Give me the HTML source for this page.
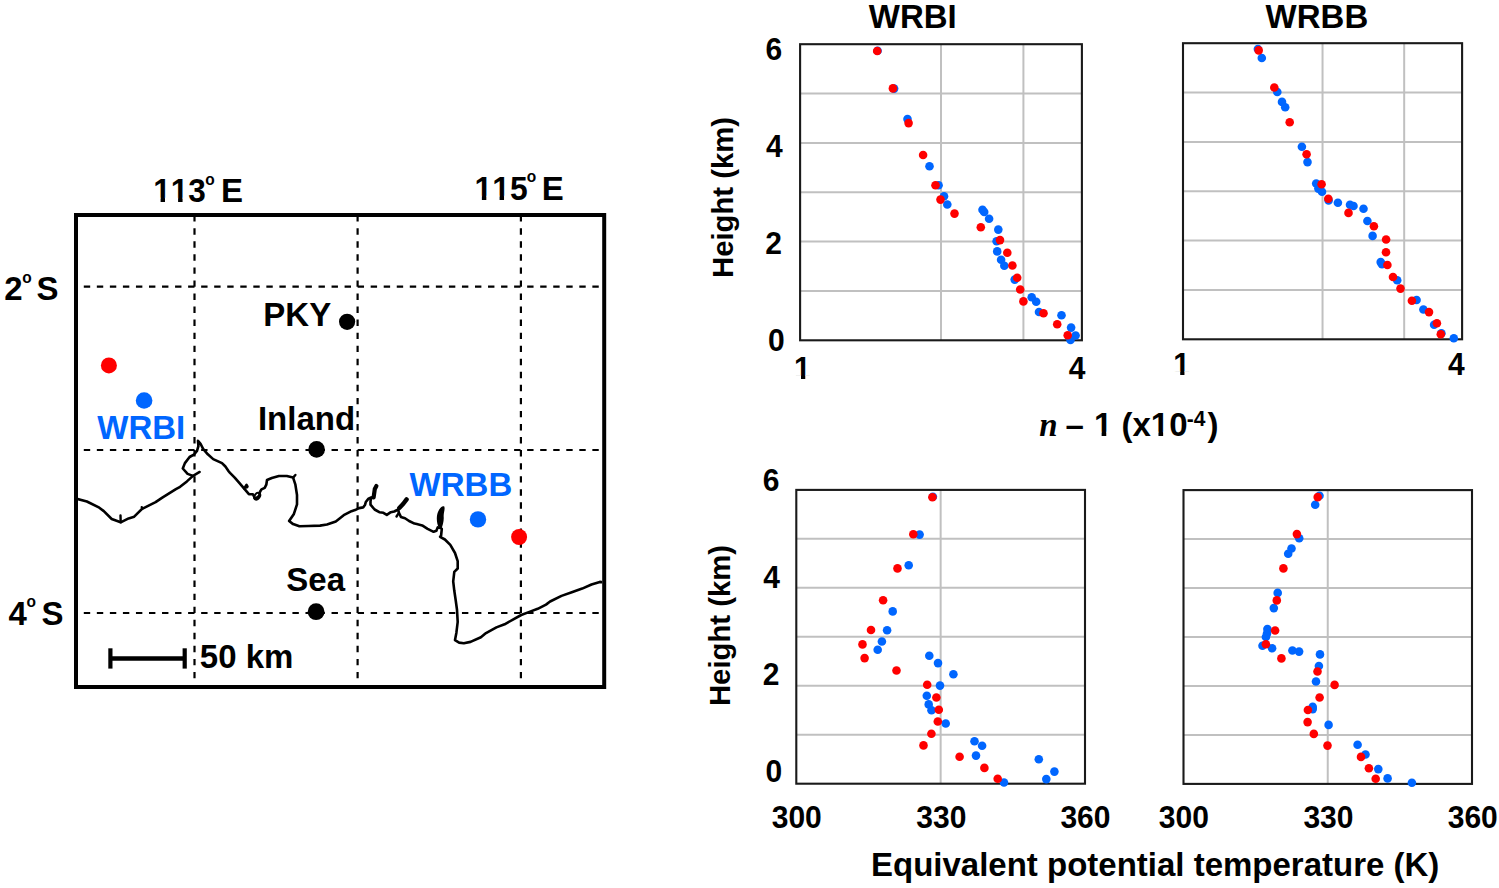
<!DOCTYPE html>
<html><head><meta charset="utf-8"><style>
html,body{margin:0;padding:0;background:#fff;width:1499px;height:888px;overflow:hidden}
svg{display:block}
</style></head><body>
<svg width="1499" height="888" viewBox="0 0 1499 888">
<defs><clipPath id="one30" clipPathUnits="userSpaceOnUse"><rect x="-20" y="-80" width="80" height="76.73"/><rect x="6.93" y="-20" width="4.23" height="40"/></clipPath><clipPath id="one33" clipPathUnits="userSpaceOnUse"><rect x="-20" y="-80" width="80" height="76.40"/><rect x="7.62" y="-20" width="4.65" height="40"/></clipPath><clipPath id="mapclip"><rect x="78" y="217" width="524.2" height="468"/></clipPath></defs>
<rect width="1499" height="888" fill="#fff"/>
<rect x="76" y="215" width="528.2" height="472" fill="none" stroke="#000" stroke-width="4"/>
<g clip-path="url(#mapclip)">
<line x1="194.5" y1="215.2" x2="194.5" y2="685" stroke="#000" stroke-width="2.2" stroke-dasharray="6.4 6.65"/>
<line x1="357.6" y1="215.2" x2="357.6" y2="685" stroke="#000" stroke-width="2.2" stroke-dasharray="6.4 6.65"/>
<line x1="520.9" y1="215.2" x2="520.9" y2="685" stroke="#000" stroke-width="2.2" stroke-dasharray="6.4 6.65"/>
<line x1="70.75" y1="286.7" x2="602" y2="286.7" stroke="#000" stroke-width="2.2" stroke-dasharray="6.4 6.64"/>
<line x1="70.75" y1="450.0" x2="602" y2="450.0" stroke="#000" stroke-width="2.2" stroke-dasharray="6.4 6.64"/>
<line x1="70.75" y1="613.0" x2="602" y2="613.0" stroke="#000" stroke-width="2.2" stroke-dasharray="6.4 6.64"/>
<path d="M76,498.7 L86.9,501.5 L99.3,507.7 L103.8,511.1 L111.7,519.0 L120.7,522.3 L128.6,518.4 L134.2,516.7 L142.1,508.8 L155.6,502.1 L162.3,497.6 L175.9,489.1 L180.1,486.8 L186.9,481.4 L193.0,475.9 L187.6,473.9 L182.8,468.5 L184.9,463.1 L189.6,457.0 L194.3,454.3 L197.0,450.9 L198.4,446.2 L198.0,440.8 L200.4,443.5 L203.1,448.9 L207.8,454.3 L213.2,459.1 L222.0,463.1 L225.4,466.5 L228.8,471.5 L230,472.9 L234.7,477.6 L239.5,483.1 L244.2,488.6 L248.9,494.2 L252.9,494.2 L255.2,498.9 L259.2,495.7 L260,491.8 L261.5,489.4 L264.7,487.9 L266.3,484.7 L267.0,480.0 L271.8,478.0 L278.9,476.0 L286.8,476.0 L293.1,477.6 L295.4,484.7 L297.0,495.0 L297.0,504.4 L293.9,513.9 L289.1,521.0 L293.1,524.1 L299.4,526.3 L308.3,526.0 L320,525.6 L327,524.5 L335.8,521.4 L343.7,515.2 L351.5,511.2 L355,510.1 L359.1,508.1 L363.1,507.4 L365.1,504.7 L365.8,502.0 L368.5,498.6 L371.2,497.3 L370.5,501.4 L370.5,504.7 L374.6,509.5 L379.3,512.2 L383.4,512.8 L386.8,514.9 L390.8,512.2 L394.2,511.5 L398.2,509.5 L398.9,512.8 L400.9,516.9 L405.0,518.2 L409.1,521.0 L414.5,523.6 L416.8,524.1 L422.2,525.4 L427.6,528.8 L433.6,531.8 L436.4,530.8 L437.7,527.4 L440.5,528.0 L441.8,528.8 L441.1,535.5 L440.1,536.8 L444.9,539.5 L450.3,544.9 L455.0,553.0 L457.7,561.1 L457.7,568.5 L454.3,571.9 L453.2,581.4 L454.3,590.8 L455.7,600.3 L457.0,609.7 L457.7,621.9 L456.4,632.7 L455.0,640.1 L459.1,642.6 L463.8,643.2 L470.5,641.9 L480.9,637.2 L486.0,633.1 L496.4,627.4 L504.6,624.3 L512.9,619.6 L521.2,615.0 L529.4,611.9 L537.7,608.8 L546.0,604.6 L550.1,601.5 L561.5,595.9 L571.8,592.2 L582.2,588.6 L591.5,584.5 L599.8,581.9 L604,582.4" fill="none" stroke="#000" stroke-width="2.6" stroke-linejoin="round" stroke-linecap="round"/>
<path d="M193.0,475.9 L199.7,471.9" stroke="#000" stroke-width="2.4" stroke-linecap="round"/>
<path d="M244.2,488.6 L246.6,484.7" stroke="#000" stroke-width="2.4" stroke-linecap="round"/>
<path d="M293.1,477.6 L295.4,475.0" stroke="#000" stroke-width="2.4" stroke-linecap="round"/>
<path d="M120.7,522.3 L120.5,515.5" stroke="#000" stroke-width="2.4" stroke-linecap="round"/>
<path d="M142.1,508.8 L141.8,507.3" stroke="#000" stroke-width="2.4" stroke-linecap="round"/>
<path d="M398.9,512.8 L396.5,516.5" stroke="#000" stroke-width="2.4" stroke-linecap="round"/>
<path d="M373.6,497.5 L374.8,489 L376.4,486" fill="none" stroke="#000" stroke-width="4.2" stroke-linecap="round" stroke-linejoin="round"/>
<path d="M399.3,508 L403.3,503.8 L406.6,499.4" fill="none" stroke="#000" stroke-width="4.4" stroke-linecap="round" stroke-linejoin="round"/>
<path d="M439.2,528.5 C436.2,523 436.2,516 438.2,511.5 C440,507.5 442.5,505.2 444.3,506.6 C445.3,509.5 443.4,513 443.7,517 C444,521 442.6,525.5 441.6,528.5 Z" fill="#000"/>
<ellipse cx="257.2" cy="496.2" rx="2.5" ry="3.6" transform="rotate(35 257.2 496.2)" fill="none" stroke="#000" stroke-width="2.1"/>
<circle cx="246.6" cy="486.6" r="2.1" fill="#000"/>
</g>
<circle cx="108.9" cy="365.4" r="8.0" fill="#ff0000"/>
<circle cx="144.1" cy="400.5" r="8.3" fill="#0066ff"/>
<circle cx="478.0" cy="519.4" r="8.2" fill="#0066ff"/>
<circle cx="519.1" cy="537.0" r="8.0" fill="#ff0000"/>
<circle cx="347.1" cy="321.8" r="8.1" fill="#000"/>
<circle cx="316.6" cy="449.4" r="8.3" fill="#000"/>
<circle cx="316.1" cy="611.7" r="8.4" fill="#000"/>
<text transform="translate(153.30,201.5) scale(0.955,1.02)" font-size="33" fill="#000" style="font-family:'Liberation Sans',sans-serif;font-weight:bold" clip-path="url(#one33)">1</text>
<text transform="translate(170.82,201.5) scale(0.955,1.02)" font-size="33" fill="#000" style="font-family:'Liberation Sans',sans-serif;font-weight:bold" clip-path="url(#one33)">1</text>
<text transform="translate(188.34,201.5) scale(0.955,1.02)" font-size="33" fill="#000" style="font-family:'Liberation Sans',sans-serif;font-weight:bold">3</text>
<text transform="translate(205.3,184.5) scale(1,1.02)" font-size="15.5" fill="#000" text-anchor="start" style="font-family:'Liberation Sans',sans-serif;font-weight:bold" >o</text>
<text transform="translate(220.9,201.5) scale(1,1.02)" font-size="33" fill="#000" text-anchor="start" style="font-family:'Liberation Sans',sans-serif;font-weight:bold" >E</text>
<text transform="translate(474.50,199.5) scale(0.965,1.02)" font-size="33" fill="#000" style="font-family:'Liberation Sans',sans-serif;font-weight:bold" clip-path="url(#one33)">1</text>
<text transform="translate(492.21,199.5) scale(0.965,1.02)" font-size="33" fill="#000" style="font-family:'Liberation Sans',sans-serif;font-weight:bold" clip-path="url(#one33)">1</text>
<text transform="translate(509.91,199.5) scale(0.965,1.02)" font-size="33" fill="#000" style="font-family:'Liberation Sans',sans-serif;font-weight:bold">5</text>
<text transform="translate(526.7,181.8) scale(1,1.02)" font-size="15.5" fill="#000" text-anchor="start" style="font-family:'Liberation Sans',sans-serif;font-weight:bold" >o</text>
<text transform="translate(541.7,199.5) scale(1,1.02)" font-size="33" fill="#000" text-anchor="start" style="font-family:'Liberation Sans',sans-serif;font-weight:bold" >E</text>
<text transform="translate(4.3,299.9) scale(1,1.02)" font-size="33" fill="#000" text-anchor="start" style="font-family:'Liberation Sans',sans-serif;font-weight:bold" >2</text>
<text transform="translate(22.2,283.0) scale(1,1.02)" font-size="15.5" fill="#000" text-anchor="start" style="font-family:'Liberation Sans',sans-serif;font-weight:bold" >o</text>
<text transform="translate(36.6,299.9) scale(1,1.02)" font-size="33" fill="#000" text-anchor="start" style="font-family:'Liberation Sans',sans-serif;font-weight:bold" >S</text>
<text transform="translate(8.6,624.5) scale(1,1.02)" font-size="33" fill="#000" text-anchor="start" style="font-family:'Liberation Sans',sans-serif;font-weight:bold" >4</text>
<text transform="translate(26.6,607.2) scale(1,1.02)" font-size="15.5" fill="#000" text-anchor="start" style="font-family:'Liberation Sans',sans-serif;font-weight:bold" >o</text>
<text transform="translate(41.4,624.5) scale(1,1.02)" font-size="33" fill="#000" text-anchor="start" style="font-family:'Liberation Sans',sans-serif;font-weight:bold" >S</text>
<text transform="translate(263.3,326.4) scale(1,1.02)" font-size="33" fill="#000" text-anchor="start" style="font-family:'Liberation Sans',sans-serif;font-weight:bold" >PKY</text>
<text transform="translate(257.9,430.0) scale(1,1.02)" font-size="33" fill="#000" text-anchor="start" style="font-family:'Liberation Sans',sans-serif;font-weight:bold" >Inland</text>
<text transform="translate(286.3,590.5) scale(1,1.02)" font-size="33" fill="#000" text-anchor="start" style="font-family:'Liberation Sans',sans-serif;font-weight:bold" >Sea</text>
<text transform="translate(97.3,439.0) scale(1,1.02)" font-size="33" fill="#0066ff" text-anchor="start" style="font-family:'Liberation Sans',sans-serif;font-weight:bold" >WRBI</text>
<text transform="translate(409.6,496.0) scale(1,1.02)" font-size="33" fill="#0066ff" text-anchor="start" style="font-family:'Liberation Sans',sans-serif;font-weight:bold" >WRBB</text>
<line x1="110.4" y1="658.5" x2="184.7" y2="658.5" stroke="#000" stroke-width="4.6"/>
<line x1="110.4" y1="648.3" x2="110.4" y2="668.6" stroke="#000" stroke-width="4.2"/>
<line x1="184.7" y1="648.3" x2="184.7" y2="668.6" stroke="#000" stroke-width="4.2"/>
<text transform="translate(199.8,668.0) scale(1,1.02)" font-size="33" fill="#000" text-anchor="start" style="font-family:'Liberation Sans',sans-serif;font-weight:bold" >50 km</text>
<line x1="800.1" y1="290.95" x2="1081.9" y2="290.95" stroke="#c0c0c0" stroke-width="2"/>
<line x1="800.1" y1="241.60" x2="1081.9" y2="241.60" stroke="#c0c0c0" stroke-width="2"/>
<line x1="800.1" y1="192.25" x2="1081.9" y2="192.25" stroke="#c0c0c0" stroke-width="2"/>
<line x1="800.1" y1="142.90" x2="1081.9" y2="142.90" stroke="#c0c0c0" stroke-width="2"/>
<line x1="800.1" y1="93.55" x2="1081.9" y2="93.55" stroke="#c0c0c0" stroke-width="2"/>
<line x1="941.00" y1="44.2" x2="941.00" y2="340.3" stroke="#c0c0c0" stroke-width="2"/>
<line x1="1023.42" y1="44.2" x2="1023.42" y2="340.3" stroke="#c0c0c0" stroke-width="2"/>
<rect x="800.1" y="44.2" width="281.80" height="296.10" fill="none" stroke="#1a1a1a" stroke-width="2.1"/>
<circle cx="877.6" cy="50.8" r="4.3" fill="#0066ff"/>
<circle cx="894.1" cy="88.6" r="4.3" fill="#0066ff"/>
<circle cx="907.5" cy="119.1" r="4.3" fill="#0066ff"/>
<circle cx="929.5" cy="166.3" r="4.3" fill="#0066ff"/>
<circle cx="938.6" cy="185.2" r="4.3" fill="#0066ff"/>
<circle cx="944.0" cy="196.2" r="4.3" fill="#0066ff"/>
<circle cx="947.3" cy="204.5" r="4.3" fill="#0066ff"/>
<circle cx="982.5" cy="209.7" r="4.3" fill="#0066ff"/>
<circle cx="984.2" cy="212.0" r="4.3" fill="#0066ff"/>
<circle cx="989.1" cy="218.7" r="4.3" fill="#0066ff"/>
<circle cx="998.3" cy="229.6" r="4.3" fill="#0066ff"/>
<circle cx="996.6" cy="241.2" r="4.3" fill="#0066ff"/>
<circle cx="997.2" cy="251.4" r="4.3" fill="#0066ff"/>
<circle cx="1001.1" cy="259.8" r="4.3" fill="#0066ff"/>
<circle cx="1004.3" cy="265.8" r="4.3" fill="#0066ff"/>
<circle cx="1014.7" cy="279.6" r="4.3" fill="#0066ff"/>
<circle cx="1031.7" cy="297.2" r="4.3" fill="#0066ff"/>
<circle cx="1036.2" cy="301.7" r="4.3" fill="#0066ff"/>
<circle cx="1039.0" cy="312.0" r="4.3" fill="#0066ff"/>
<circle cx="1061.5" cy="315.2" r="4.3" fill="#0066ff"/>
<circle cx="1071.1" cy="327.6" r="4.3" fill="#0066ff"/>
<circle cx="1075.6" cy="335.5" r="4.3" fill="#0066ff"/>
<circle cx="1070.5" cy="340.0" r="4.3" fill="#0066ff"/>
<circle cx="877.2" cy="51.0" r="4.3" fill="#ff0000"/>
<circle cx="892.9" cy="88.4" r="4.3" fill="#ff0000"/>
<circle cx="908.6" cy="123.1" r="4.3" fill="#ff0000"/>
<circle cx="923.1" cy="155.0" r="4.3" fill="#ff0000"/>
<circle cx="935.5" cy="185.2" r="4.3" fill="#ff0000"/>
<circle cx="940.5" cy="199.6" r="4.3" fill="#ff0000"/>
<circle cx="954.5" cy="213.6" r="4.3" fill="#ff0000"/>
<circle cx="980.8" cy="227.2" r="4.3" fill="#ff0000"/>
<circle cx="1000.0" cy="240.1" r="4.3" fill="#ff0000"/>
<circle cx="1007.3" cy="252.8" r="4.3" fill="#ff0000"/>
<circle cx="1012.4" cy="265.5" r="4.3" fill="#ff0000"/>
<circle cx="1017.2" cy="277.7" r="4.3" fill="#ff0000"/>
<circle cx="1020.2" cy="289.5" r="4.3" fill="#ff0000"/>
<circle cx="1023.4" cy="301.4" r="4.3" fill="#ff0000"/>
<circle cx="1043.5" cy="313.2" r="4.3" fill="#ff0000"/>
<circle cx="1057.2" cy="324.2" r="4.3" fill="#ff0000"/>
<circle cx="1067.7" cy="335.2" r="4.3" fill="#ff0000"/>
<line x1="1183.0" y1="289.95" x2="1462.1" y2="289.95" stroke="#c0c0c0" stroke-width="2"/>
<line x1="1183.0" y1="240.60" x2="1462.1" y2="240.60" stroke="#c0c0c0" stroke-width="2"/>
<line x1="1183.0" y1="191.25" x2="1462.1" y2="191.25" stroke="#c0c0c0" stroke-width="2"/>
<line x1="1183.0" y1="141.90" x2="1462.1" y2="141.90" stroke="#c0c0c0" stroke-width="2"/>
<line x1="1183.0" y1="92.55" x2="1462.1" y2="92.55" stroke="#c0c0c0" stroke-width="2"/>
<line x1="1322.55" y1="43.2" x2="1322.55" y2="339.3" stroke="#c0c0c0" stroke-width="2"/>
<line x1="1404.18" y1="43.2" x2="1404.18" y2="339.3" stroke="#c0c0c0" stroke-width="2"/>
<rect x="1183.0" y="43.2" width="279.10" height="296.10" fill="none" stroke="#1a1a1a" stroke-width="2.1"/>
<circle cx="1257.9" cy="49.0" r="4.3" fill="#0066ff"/>
<circle cx="1261.8" cy="58.0" r="4.3" fill="#0066ff"/>
<circle cx="1277.3" cy="92.0" r="4.3" fill="#0066ff"/>
<circle cx="1282.0" cy="101.9" r="4.3" fill="#0066ff"/>
<circle cx="1285.2" cy="107.2" r="4.3" fill="#0066ff"/>
<circle cx="1301.9" cy="146.7" r="4.3" fill="#0066ff"/>
<circle cx="1307.5" cy="162.1" r="4.3" fill="#0066ff"/>
<circle cx="1316.2" cy="183.5" r="4.3" fill="#0066ff"/>
<circle cx="1318.4" cy="188.6" r="4.3" fill="#0066ff"/>
<circle cx="1322.0" cy="191.7" r="4.3" fill="#0066ff"/>
<circle cx="1328.6" cy="200.4" r="4.3" fill="#0066ff"/>
<circle cx="1337.9" cy="202.8" r="4.3" fill="#0066ff"/>
<circle cx="1350.0" cy="204.8" r="4.3" fill="#0066ff"/>
<circle cx="1353.5" cy="206.0" r="4.3" fill="#0066ff"/>
<circle cx="1363.5" cy="208.8" r="4.3" fill="#0066ff"/>
<circle cx="1367.4" cy="221.0" r="4.3" fill="#0066ff"/>
<circle cx="1372.6" cy="235.9" r="4.3" fill="#0066ff"/>
<circle cx="1380.7" cy="262.1" r="4.3" fill="#0066ff"/>
<circle cx="1382.0" cy="264.3" r="4.3" fill="#0066ff"/>
<circle cx="1397.2" cy="280.2" r="4.3" fill="#0066ff"/>
<circle cx="1416.6" cy="300.0" r="4.3" fill="#0066ff"/>
<circle cx="1423.4" cy="309.5" r="4.3" fill="#0066ff"/>
<circle cx="1434.1" cy="324.8" r="4.3" fill="#0066ff"/>
<circle cx="1441.4" cy="333.2" r="4.3" fill="#0066ff"/>
<circle cx="1453.8" cy="338.3" r="4.3" fill="#0066ff"/>
<circle cx="1258.7" cy="50.4" r="4.3" fill="#ff0000"/>
<circle cx="1274.3" cy="87.5" r="4.3" fill="#ff0000"/>
<circle cx="1289.7" cy="122.2" r="4.3" fill="#ff0000"/>
<circle cx="1306.6" cy="154.2" r="4.3" fill="#ff0000"/>
<circle cx="1321.6" cy="184.3" r="4.3" fill="#ff0000"/>
<circle cx="1328.3" cy="198.7" r="4.3" fill="#ff0000"/>
<circle cx="1348.5" cy="212.9" r="4.3" fill="#ff0000"/>
<circle cx="1373.9" cy="226.3" r="4.3" fill="#ff0000"/>
<circle cx="1386.1" cy="239.5" r="4.3" fill="#ff0000"/>
<circle cx="1386.0" cy="252.3" r="4.3" fill="#ff0000"/>
<circle cx="1387.4" cy="265.0" r="4.3" fill="#ff0000"/>
<circle cx="1393.0" cy="277.0" r="4.3" fill="#ff0000"/>
<circle cx="1400.5" cy="288.6" r="4.3" fill="#ff0000"/>
<circle cx="1411.9" cy="300.8" r="4.3" fill="#ff0000"/>
<circle cx="1429.0" cy="312.1" r="4.3" fill="#ff0000"/>
<circle cx="1436.9" cy="323.3" r="4.3" fill="#ff0000"/>
<circle cx="1440.8" cy="334.3" r="4.3" fill="#ff0000"/>
<line x1="796.3" y1="734.73" x2="1085.0" y2="734.73" stroke="#c0c0c0" stroke-width="2"/>
<line x1="796.3" y1="685.77" x2="1085.0" y2="685.77" stroke="#c0c0c0" stroke-width="2"/>
<line x1="796.3" y1="636.80" x2="1085.0" y2="636.80" stroke="#c0c0c0" stroke-width="2"/>
<line x1="796.3" y1="587.83" x2="1085.0" y2="587.83" stroke="#c0c0c0" stroke-width="2"/>
<line x1="796.3" y1="538.87" x2="1085.0" y2="538.87" stroke="#c0c0c0" stroke-width="2"/>
<line x1="940.65" y1="489.9" x2="940.65" y2="783.7" stroke="#c0c0c0" stroke-width="2"/>
<rect x="796.3" y="489.9" width="288.70" height="293.80" fill="none" stroke="#1a1a1a" stroke-width="2.1"/>
<circle cx="932.9" cy="496.7" r="4.3" fill="#0066ff"/>
<circle cx="919.6" cy="534.6" r="4.3" fill="#0066ff"/>
<circle cx="908.7" cy="565.2" r="4.3" fill="#0066ff"/>
<circle cx="892.7" cy="611.4" r="4.3" fill="#0066ff"/>
<circle cx="887.1" cy="630.2" r="4.3" fill="#0066ff"/>
<circle cx="881.9" cy="641.5" r="4.3" fill="#0066ff"/>
<circle cx="877.7" cy="649.7" r="4.3" fill="#0066ff"/>
<circle cx="929.3" cy="655.7" r="4.3" fill="#0066ff"/>
<circle cx="938.0" cy="663.1" r="4.3" fill="#0066ff"/>
<circle cx="953.4" cy="674.2" r="4.3" fill="#0066ff"/>
<circle cx="940.0" cy="685.6" r="4.3" fill="#0066ff"/>
<circle cx="926.8" cy="695.7" r="4.3" fill="#0066ff"/>
<circle cx="928.7" cy="704.4" r="4.3" fill="#0066ff"/>
<circle cx="931.5" cy="710.2" r="4.3" fill="#0066ff"/>
<circle cx="945.7" cy="723.5" r="4.3" fill="#0066ff"/>
<circle cx="974.5" cy="741.3" r="4.3" fill="#0066ff"/>
<circle cx="982.1" cy="745.7" r="4.3" fill="#0066ff"/>
<circle cx="976.0" cy="755.6" r="4.3" fill="#0066ff"/>
<circle cx="1004.0" cy="782.5" r="4.3" fill="#0066ff"/>
<circle cx="1038.8" cy="759.2" r="4.3" fill="#0066ff"/>
<circle cx="1054.4" cy="771.6" r="4.3" fill="#0066ff"/>
<circle cx="1046.3" cy="779.1" r="4.3" fill="#0066ff"/>
<circle cx="932.4" cy="497.2" r="4.3" fill="#ff0000"/>
<circle cx="913.3" cy="534.2" r="4.3" fill="#ff0000"/>
<circle cx="897.5" cy="568.4" r="4.3" fill="#ff0000"/>
<circle cx="883.1" cy="600.3" r="4.3" fill="#ff0000"/>
<circle cx="871.0" cy="630.0" r="4.3" fill="#ff0000"/>
<circle cx="862.5" cy="644.4" r="4.3" fill="#ff0000"/>
<circle cx="864.6" cy="658.1" r="4.3" fill="#ff0000"/>
<circle cx="896.5" cy="670.5" r="4.3" fill="#ff0000"/>
<circle cx="927.2" cy="684.7" r="4.3" fill="#ff0000"/>
<circle cx="936.4" cy="697.5" r="4.3" fill="#ff0000"/>
<circle cx="938.8" cy="709.7" r="4.3" fill="#ff0000"/>
<circle cx="937.8" cy="721.5" r="4.3" fill="#ff0000"/>
<circle cx="931.4" cy="733.7" r="4.3" fill="#ff0000"/>
<circle cx="923.5" cy="745.4" r="4.3" fill="#ff0000"/>
<circle cx="959.6" cy="756.7" r="4.3" fill="#ff0000"/>
<circle cx="984.4" cy="767.9" r="4.3" fill="#ff0000"/>
<circle cx="997.7" cy="778.7" r="4.3" fill="#ff0000"/>
<line x1="1183.5" y1="734.93" x2="1472.0" y2="734.93" stroke="#c0c0c0" stroke-width="2"/>
<line x1="1183.5" y1="685.97" x2="1472.0" y2="685.97" stroke="#c0c0c0" stroke-width="2"/>
<line x1="1183.5" y1="637.00" x2="1472.0" y2="637.00" stroke="#c0c0c0" stroke-width="2"/>
<line x1="1183.5" y1="588.03" x2="1472.0" y2="588.03" stroke="#c0c0c0" stroke-width="2"/>
<line x1="1183.5" y1="539.07" x2="1472.0" y2="539.07" stroke="#c0c0c0" stroke-width="2"/>
<line x1="1327.75" y1="490.1" x2="1327.75" y2="783.9" stroke="#c0c0c0" stroke-width="2"/>
<rect x="1183.5" y="490.1" width="288.50" height="293.80" fill="none" stroke="#1a1a1a" stroke-width="2.1"/>
<circle cx="1319.5" cy="495.8" r="4.3" fill="#0066ff"/>
<circle cx="1315.2" cy="504.8" r="4.3" fill="#0066ff"/>
<circle cx="1299.2" cy="538.3" r="4.3" fill="#0066ff"/>
<circle cx="1291.5" cy="548.5" r="4.3" fill="#0066ff"/>
<circle cx="1288.2" cy="553.8" r="4.3" fill="#0066ff"/>
<circle cx="1277.7" cy="592.9" r="4.3" fill="#0066ff"/>
<circle cx="1273.8" cy="608.1" r="4.3" fill="#0066ff"/>
<circle cx="1267.4" cy="629.1" r="4.3" fill="#0066ff"/>
<circle cx="1267.0" cy="633.6" r="4.3" fill="#0066ff"/>
<circle cx="1265.9" cy="637.0" r="4.3" fill="#0066ff"/>
<circle cx="1262.5" cy="645.7" r="4.3" fill="#0066ff"/>
<circle cx="1272.1" cy="648.3" r="4.3" fill="#0066ff"/>
<circle cx="1292.4" cy="650.5" r="4.3" fill="#0066ff"/>
<circle cx="1299.1" cy="651.6" r="4.3" fill="#0066ff"/>
<circle cx="1320.0" cy="654.4" r="4.3" fill="#0066ff"/>
<circle cx="1318.9" cy="666.0" r="4.3" fill="#0066ff"/>
<circle cx="1316.0" cy="681.5" r="4.3" fill="#0066ff"/>
<circle cx="1312.7" cy="706.9" r="4.3" fill="#0066ff"/>
<circle cx="1312.7" cy="709.1" r="4.3" fill="#0066ff"/>
<circle cx="1328.6" cy="724.9" r="4.3" fill="#0066ff"/>
<circle cx="1357.6" cy="744.8" r="4.3" fill="#0066ff"/>
<circle cx="1365.5" cy="754.5" r="4.3" fill="#0066ff"/>
<circle cx="1378.3" cy="769.1" r="4.3" fill="#0066ff"/>
<circle cx="1387.6" cy="778.4" r="4.3" fill="#0066ff"/>
<circle cx="1411.9" cy="782.8" r="4.3" fill="#0066ff"/>
<circle cx="1317.7" cy="497.1" r="4.3" fill="#ff0000"/>
<circle cx="1296.9" cy="534.1" r="4.3" fill="#ff0000"/>
<circle cx="1283.4" cy="568.4" r="4.3" fill="#ff0000"/>
<circle cx="1276.8" cy="600.4" r="4.3" fill="#ff0000"/>
<circle cx="1275.1" cy="630.5" r="4.3" fill="#ff0000"/>
<circle cx="1265.9" cy="644.3" r="4.3" fill="#ff0000"/>
<circle cx="1281.4" cy="658.4" r="4.3" fill="#ff0000"/>
<circle cx="1317.5" cy="671.5" r="4.3" fill="#ff0000"/>
<circle cx="1334.6" cy="684.9" r="4.3" fill="#ff0000"/>
<circle cx="1319.6" cy="697.5" r="4.3" fill="#ff0000"/>
<circle cx="1307.9" cy="710.0" r="4.3" fill="#ff0000"/>
<circle cx="1307.6" cy="722.1" r="4.3" fill="#ff0000"/>
<circle cx="1313.8" cy="733.9" r="4.3" fill="#ff0000"/>
<circle cx="1327.5" cy="745.6" r="4.3" fill="#ff0000"/>
<circle cx="1361.0" cy="756.9" r="4.3" fill="#ff0000"/>
<circle cx="1368.9" cy="768.2" r="4.3" fill="#ff0000"/>
<circle cx="1375.7" cy="778.7" r="4.3" fill="#ff0000"/>
<text transform="translate(868.8,27.5) scale(1,1.02)" font-size="33" fill="#000" text-anchor="start" style="font-family:'Liberation Sans',sans-serif;font-weight:bold" >WRBI</text>
<text transform="translate(1265.6,27.7) scale(1,1.02)" font-size="33" fill="#000" text-anchor="start" style="font-family:'Liberation Sans',sans-serif;font-weight:bold" >WRBB</text>
<text transform="translate(765.5,60.1) scale(1,1.02)" font-size="30" fill="#000" text-anchor="start" style="font-family:'Liberation Sans',sans-serif;font-weight:bold" >6</text>
<text transform="translate(766.0,156.8) scale(1,1.02)" font-size="30" fill="#000" text-anchor="start" style="font-family:'Liberation Sans',sans-serif;font-weight:bold" >4</text>
<text transform="translate(765.3,254.0) scale(1,1.02)" font-size="30" fill="#000" text-anchor="start" style="font-family:'Liberation Sans',sans-serif;font-weight:bold" >2</text>
<text transform="translate(768.1,351.3) scale(1,1.02)" font-size="30" fill="#000" text-anchor="start" style="font-family:'Liberation Sans',sans-serif;font-weight:bold" >0</text>
<text transform="translate(762.7,491.1) scale(1,1.02)" font-size="30" fill="#000" text-anchor="start" style="font-family:'Liberation Sans',sans-serif;font-weight:bold" >6</text>
<text transform="translate(763.3,588.1) scale(1,1.02)" font-size="30" fill="#000" text-anchor="start" style="font-family:'Liberation Sans',sans-serif;font-weight:bold" >4</text>
<text transform="translate(762.7,685.2) scale(1,1.02)" font-size="30" fill="#000" text-anchor="start" style="font-family:'Liberation Sans',sans-serif;font-weight:bold" >2</text>
<text transform="translate(765.4,782.2) scale(1,1.02)" font-size="30" fill="#000" text-anchor="start" style="font-family:'Liberation Sans',sans-serif;font-weight:bold" >0</text>
<text transform="translate(794.10,378.7) scale(1.0,1.02)" font-size="30" fill="#000" style="font-family:'Liberation Sans',sans-serif;font-weight:bold" clip-path="url(#one30)">1</text>
<text transform="translate(1068.7,378.7) scale(1,1.02)" font-size="30" fill="#000" text-anchor="start" style="font-family:'Liberation Sans',sans-serif;font-weight:bold" >4</text>
<text transform="translate(1173.30,374.5) scale(1.0,1.02)" font-size="30" fill="#000" style="font-family:'Liberation Sans',sans-serif;font-weight:bold" clip-path="url(#one30)">1</text>
<text transform="translate(1448.1,374.5) scale(1,1.02)" font-size="30" fill="#000" text-anchor="start" style="font-family:'Liberation Sans',sans-serif;font-weight:bold" >4</text>
<text transform="translate(771.7,827.9) scale(1,1.02)" font-size="30" fill="#000" text-anchor="start" style="font-family:'Liberation Sans',sans-serif;font-weight:bold" >300</text>
<text transform="translate(916.3,828.0) scale(1,1.02)" font-size="30" fill="#000" text-anchor="start" style="font-family:'Liberation Sans',sans-serif;font-weight:bold" >330</text>
<text transform="translate(1060.4,828.0) scale(1,1.02)" font-size="30" fill="#000" text-anchor="start" style="font-family:'Liberation Sans',sans-serif;font-weight:bold" >360</text>
<text transform="translate(1158.8,827.8) scale(1,1.02)" font-size="30" fill="#000" text-anchor="start" style="font-family:'Liberation Sans',sans-serif;font-weight:bold" >300</text>
<text transform="translate(1303.4,827.8) scale(1,1.02)" font-size="30" fill="#000" text-anchor="start" style="font-family:'Liberation Sans',sans-serif;font-weight:bold" >330</text>
<text transform="translate(1447.7,827.8) scale(1,1.02)" font-size="30" fill="#000" text-anchor="start" style="font-family:'Liberation Sans',sans-serif;font-weight:bold" >360</text>
<text transform="translate(722.4,197.45) rotate(-90) scale(1,1.02)" x="0" y="10" font-size="29.3" text-anchor="middle" style="font-family:'Liberation Sans',sans-serif;font-weight:bold">Height (km)</text>
<text transform="translate(719.4,625.5) rotate(-90) scale(1,1.02)" x="0" y="10" font-size="29.3" text-anchor="middle" style="font-family:'Liberation Sans',sans-serif;font-weight:bold">Height (km)</text>
<text transform="translate(871.0,876.0) scale(1,1.02)" font-size="33" fill="#000" text-anchor="start" style="font-family:'Liberation Sans',sans-serif;font-weight:bold" >Equivalent potential temperature (K)</text>
<text transform="translate(1039.3,435.5) scale(1,1.02)" font-size="33" fill="#000" text-anchor="start" style="font-family:'Liberation Serif',serif;font-weight:bold;font-style:italic" >n</text>
<text transform="translate(1065.5,435.5) scale(1,1.02)" font-size="33" fill="#000" text-anchor="start" style="font-family:'Liberation Sans',sans-serif;font-weight:bold" >–</text>
<text transform="translate(1094.00,435.5) scale(1.0,1.02)" font-size="33" fill="#000" style="font-family:'Liberation Sans',sans-serif;font-weight:bold" clip-path="url(#one33)">1</text>
<text transform="translate(1121.52,435.5) scale(1.0,1.02)" font-size="33" fill="#000" style="font-family:'Liberation Sans',sans-serif;font-weight:bold">(x</text>
<text transform="translate(1150.86,435.5) scale(1.0,1.02)" font-size="33" fill="#000" style="font-family:'Liberation Sans',sans-serif;font-weight:bold" clip-path="url(#one33)">1</text>
<text transform="translate(1169.21,435.5) scale(1.0,1.02)" font-size="33" fill="#000" style="font-family:'Liberation Sans',sans-serif;font-weight:bold">0</text>
<text transform="translate(1186.8,425.5) scale(1,1.02)" font-size="21" fill="#000" text-anchor="start" style="font-family:'Liberation Sans',sans-serif;font-weight:bold" >-4</text>
<text transform="translate(1207.6,435.5) scale(1,1.02)" font-size="33" fill="#000" text-anchor="start" style="font-family:'Liberation Sans',sans-serif;font-weight:bold" >)</text>
</svg>
</body></html>
